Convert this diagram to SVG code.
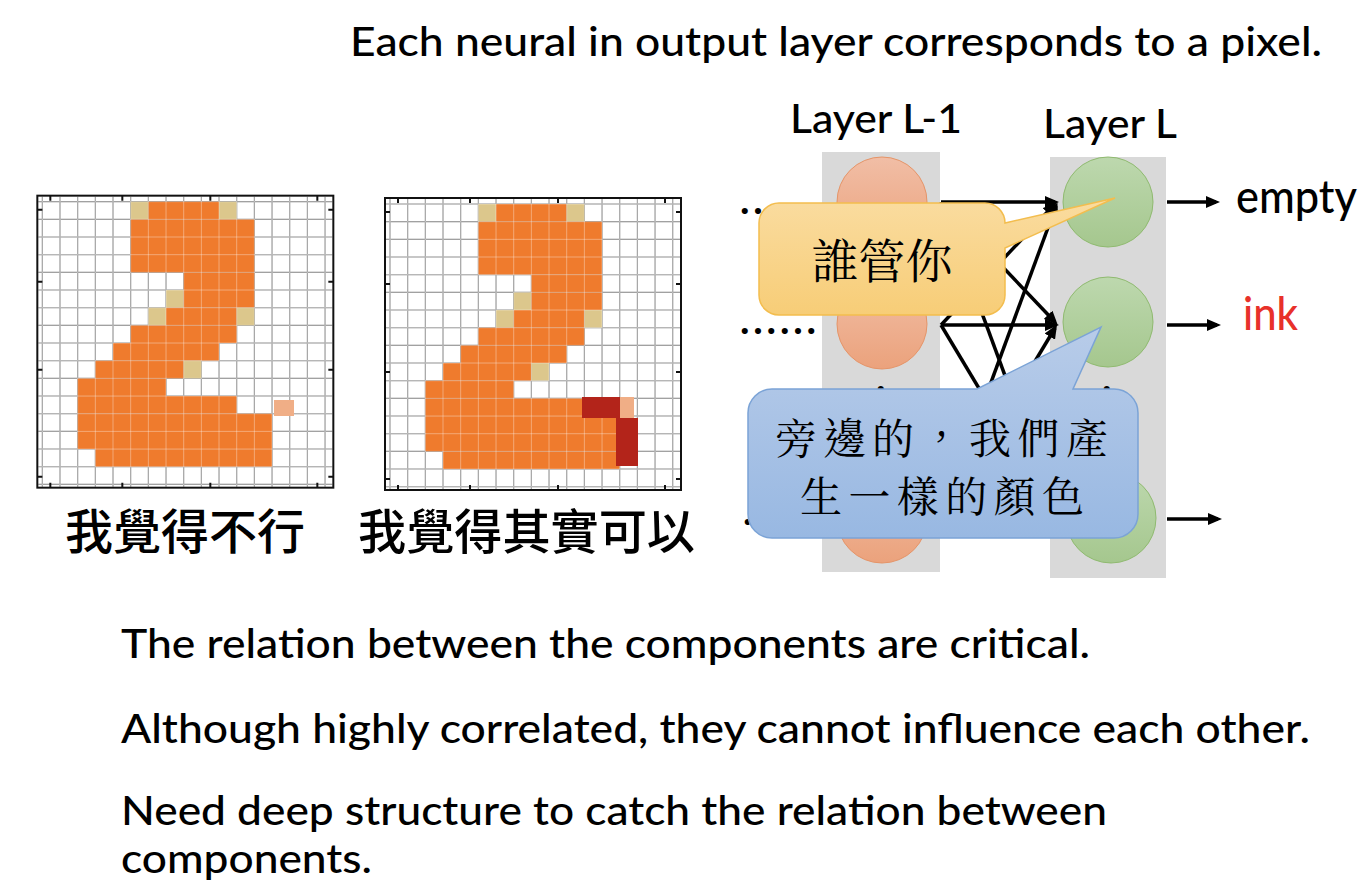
<svg xmlns="http://www.w3.org/2000/svg" width="1372" height="894" viewBox="0 0 1372 894">
<style>
  .en{font-family:Lato,"Liberation Sans",sans-serif;font-weight:500;fill:#000}
  .cjk{font-family:"Noto Sans CJK TC","Noto Sans CJK SC",sans-serif;font-weight:500;fill:#000}
  .ming{font-family:"Noto Serif CJK TC","Noto Sans CJK TC","Noto Sans CJK SC",serif;fill:#000}
  .dots{font-family:Lato,"Liberation Sans",sans-serif;font-weight:bold;font-size:40px;fill:#000}
  .o{fill:#ef7b2d} .t{fill:#dcc78c} .p{fill:#f0ae86} .r{fill:#b3241a}
  .col{fill:#d9d9d9}
  .n-in{fill:url(#gOrange);stroke:#e59468;stroke-width:1}
  .n-out{fill:url(#gGreen);stroke:#8fba6f;stroke-width:1}
  .wire{stroke:#000;stroke-width:3.5;fill:none;marker-end:url(#ah)}
  .gl{fill:none;stroke:#7a7a7a;stroke-width:1.1}
  .gl-top{fill:none;stroke:#fff;stroke-opacity:.35;stroke-width:1}
  .frame{fill:none;stroke:#111;stroke-width:2}
</style>
<defs>
  <linearGradient id="gOrange" x1="0" y1="0" x2="0" y2="1">
    <stop offset="0" stop-color="#f1bea6"/><stop offset="1" stop-color="#eba27c"/>
  </linearGradient>
  <linearGradient id="gGreen" x1="0" y1="0" x2="0" y2="1">
    <stop offset="0" stop-color="#bdd8ae"/><stop offset="1" stop-color="#a5c78e"/>
  </linearGradient>
  <linearGradient id="gYellow" x1="0" y1="0" x2="0" y2="1">
    <stop offset="0" stop-color="#fadca0"/><stop offset="1" stop-color="#f7cd77"/>
  </linearGradient>
  <linearGradient id="gBlue" x1="0" y1="0" x2="0" y2="1">
    <stop offset="0" stop-color="#b8cce9"/><stop offset="1" stop-color="#98b8e2"/>
  </linearGradient>
  <marker id="ah" viewBox="0 0 14 12" refX="10" refY="6" markerWidth="14" markerHeight="12" markerUnits="userSpaceOnUse" orient="auto">
    <path d="M0,0 L14,6 L0,12 z" fill="#000"/>
  </marker>

  <!-- 16x16 pixel grid lines, local coordinates (cell = 17.67px) -->
  <path id="gridLines" d="M0 -5V285M17.67 -5V285M35.34 -5V285M53.01 -5V285M70.68 -5V285M88.35 -5V285M106.02 -5V285M123.69 -5V285M141.36 -5V285M159.03 -5V285M176.7 -5V285M194.37 -5V285M212.04 -5V285M229.71 -5V285M247.38 -5V285M265.05 -5V285M282.72 -5V285M-4 0H290M-4 17.67H290M-4 35.34H290M-4 53.01H290M-4 70.68H290M-4 88.35H290M-4 106.02H290M-4 123.69H290M-4 141.36H290M-4 159.03H290M-4 176.7H290M-4 194.37H290M-4 212.04H290M-4 229.71H290M-4 247.38H290M-4 265.05H290M-4 282.72H290"/>

  <!-- the digit "2" drawn on the pixel grid -->
  <g id="digit">
    <rect x="-5" y="-6" width="296" height="292" fill="#fff"/>
    <use href="#gridLines" class="gl"/>
    <rect class="t" x="88.35" y="0" width="17.67" height="17.67"/>
    <rect class="o" x="106.02" y="0" width="70.68" height="17.67"/>
    <rect class="t" x="176.7" y="0" width="17.67" height="17.67"/>
    <rect class="o" x="88.35" y="17.67" width="123.69" height="53.01"/>
    <rect class="o" x="141.36" y="70.68" width="70.68" height="17.67"/>
    <rect class="t" x="123.69" y="88.35" width="17.67" height="17.67"/>
    <rect class="o" x="141.36" y="88.35" width="70.68" height="17.67"/>
    <rect class="t" x="106.02" y="106.02" width="17.67" height="17.67"/>
    <rect class="o" x="123.69" y="106.02" width="70.68" height="17.67"/>
    <rect class="t" x="194.37" y="106.02" width="17.67" height="17.67"/>
    <rect class="o" x="88.35" y="123.69" width="106.02" height="17.67"/>
    <rect class="o" x="70.68" y="141.36" width="106.02" height="17.67"/>
    <rect class="o" x="53.01" y="159.03" width="88.35" height="17.67"/>
    <rect class="t" x="141.36" y="159.03" width="17.67" height="17.67"/>
    <rect class="o" x="35.34" y="176.7" width="88.35" height="17.67"/>
    <rect class="o" x="35.34" y="194.37" width="159.03" height="17.67"/>
    <rect class="o" x="35.34" y="212.04" width="194.37" height="35.34"/>
    <rect class="o" x="53.01" y="247.38" width="176.7" height="17.67"/>
    <use href="#gridLines" class="gl-top"/>
    <rect class="frame" x="-5" y="-6" width="296" height="292"/>
    <path stroke="#111" stroke-width="2" d="M8 -6v5M80 -6v5M168 -6v5M275 -6v5M8 286v-5M80 286v-5M168 286v-5M275 286v-5M-5 8h5M-5 80h5M-5 168h5M-5 275h5M291 8h-5M291 80h-5M291 168h-5M291 275h-5"/>
  </g>
</defs>

<rect width="1372" height="894" fill="#fff"/>

<!-- heading -->
<text class="en" x="350" y="56" font-size="40" textLength="972" lengthAdjust="spacingAndGlyphs">Each neural in output layer corresponds to a pixel.</text>

<!-- left image: not acceptable -->
<g id="image-bad">
  <use href="#digit" transform="translate(42.33,201.67)"/>
  <rect class="p" x="274" y="400" width="20" height="16"/>
  <text class="cjk" x="65" y="549" font-size="48" textLength="240" lengthAdjust="spacingAndGlyphs">我覺得不行</text>
</g>

<!-- middle image: acceptable -->
<g id="image-good">
  <use href="#digit" transform="translate(390,204)"/>
  <rect class="r" x="582" y="397" width="38" height="21"/>
  <rect class="p" x="620" y="397" width="14" height="21"/>
  <rect class="r" x="616" y="418" width="22" height="48"/>
  <text class="cjk" x="358" y="549" font-size="48" textLength="337" lengthAdjust="spacingAndGlyphs">我覺得其實可以</text>
</g>

<!-- layer L-1 -->
<g id="layer-l-1">
  <text class="en" x="790" y="133" font-size="40" textLength="172" lengthAdjust="spacingAndGlyphs">Layer L-1</text>
  <rect class="col" x="822" y="152" width="118" height="420"/>
  <circle class="n-in" cx="882" cy="202" r="45"/>
  <circle class="n-in" cx="882" cy="324" r="45"/>
  <circle class="n-in" cx="882" cy="518" r="45"/>
  <text class="dots" x="876" y="392">.</text>
</g>

<!-- layer L -->
<g id="layer-l">
  <text class="en" x="1043" y="138" font-size="40" textLength="134" lengthAdjust="spacingAndGlyphs">Layer L</text>
  <rect class="col" x="1050" y="157" width="116" height="421"/>
  <circle class="n-out" cx="1108" cy="202" r="45"/>
  <circle class="n-out" cx="1108" cy="322" r="45"/>
  <circle class="n-out" cx="1111" cy="518" r="45"/>
  <text class="dots" x="1102" y="392">.</text>
</g>

<!-- incoming ellipses -->
<g id="inputs">
  <text class="dots" x="740" y="214" textLength="76" lengthAdjust="spacing">......</text>
  <text class="dots" x="740" y="334" textLength="76" lengthAdjust="spacing">......</text>
  <text class="dots" x="743" y="525" textLength="38" lengthAdjust="spacing">...</text>
</g>

<!-- output labels -->
<g id="out-empty"><text class="en" x="1236" y="213" font-size="46" textLength="121" lengthAdjust="spacingAndGlyphs">empty</text></g>
<g id="out-ink"><text class="en" x="1243" y="330" font-size="46" style="fill:#e8312a" textLength="55" lengthAdjust="spacingAndGlyphs">ink</text></g>

<!-- connectors -->
<g id="connectors">
  <line class="wire" x1="941" y1="202" x2="1055" y2="202"/>
  <line class="wire" x1="941" y1="202" x2="1055" y2="322"/>
  <line class="wire" x1="941" y1="202" x2="1056" y2="514"/>
  <line class="wire" x1="941" y1="325" x2="1054" y2="205"/>
  <line class="wire" x1="941" y1="325" x2="1055" y2="325"/>
  <line class="wire" x1="941" y1="325" x2="1055" y2="515"/>
  <line class="wire" x1="941" y1="518" x2="1056" y2="206"/>
  <line class="wire" x1="941" y1="518" x2="1055" y2="328"/>
  <line class="wire" x1="941" y1="518" x2="1055" y2="518"/>
  <line class="wire" x1="1167" y1="202" x2="1216" y2="202"/>
  <line class="wire" x1="1167" y1="325" x2="1217" y2="325"/>
  <line class="wire" x1="1167" y1="519" x2="1218" y2="519"/>
</g>

<!-- speech bubbles -->
<g id="bubble-yellow">
  <path d="M779,203 H985 A20,20 0 0 1 1005,223 L1115,198 L1005,248 V295 A20,20 0 0 1 985,315 H779 A20,20 0 0 1 759,295 V223 A20,20 0 0 1 779,203 Z" fill="url(#gYellow)" stroke="#f3bd4e" stroke-width="1.5"/>
  <text class="ming" x="882" y="278" font-size="47" text-anchor="middle">誰管你</text>
</g>
<g id="bubble-blue">
  <path d="M772,389 H977 L1101,327 L1073,389 H1114 A24,24 0 0 1 1138,413 V514 A24,24 0 0 1 1114,538 H772 A24,24 0 0 1 748,514 V413 A24,24 0 0 1 772,389 Z" fill="url(#gBlue)" stroke="#7ba3d6" stroke-width="1.5"/>
  <text class="ming" x="775" y="454" font-size="42" textLength="333" lengthAdjust="spacing">旁邊的，我們產</text>
  <text class="ming" x="800" y="512" font-size="42" textLength="284" lengthAdjust="spacing">生一樣的顏色</text>
</g>

<!-- notes -->
<g id="notes">
  <text class="en" x="121" y="658" font-size="40" textLength="969" lengthAdjust="spacingAndGlyphs">The relation between the components are critical.</text>
  <text class="en" x="121" y="743" font-size="40" textLength="1189" lengthAdjust="spacingAndGlyphs">Although highly correlated, they cannot influence each other.</text>
  <text class="en" x="121" y="825" font-size="40" textLength="986" lengthAdjust="spacingAndGlyphs">Need deep structure to catch the relation between</text>
  <text class="en" x="121" y="873" font-size="40" textLength="251" lengthAdjust="spacingAndGlyphs">components.</text>
</g>
</svg>
